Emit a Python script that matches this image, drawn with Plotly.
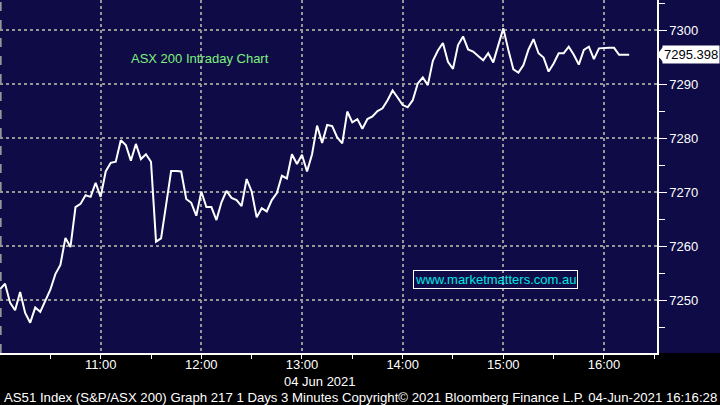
import plotly.graph_objects as go
import pandas as pd

# ---- data (3-minute bars, 04 Jun 2021, from 10:00) ----
values = [
    7252.0, 7253.0, 7249.5, 7248.1, 7251.5, 7247.6, 7245.8, 7248.6, 7247.8, 7249.7,
    7251.9, 7254.8, 7256.5, 7261.5, 7259.8, 7267.2, 7267.8, 7269.4, 7269.1, 7271.7,
    7269.1, 7273.8, 7275.4, 7275.6, 7279.6, 7278.7, 7275.8, 7278.9, 7276.1, 7277.0,
    7275.6, 7260.8, 7261.4, 7267.6, 7273.9, 7273.9, 7273.8, 7268.7, 7268.0, 7265.6,
    7270.1, 7267.2, 7267.2, 7264.8, 7268.1, 7270.2, 7268.9, 7268.5, 7267.4, 7272.4,
    7270.1, 7265.3, 7267.0, 7266.4, 7268.5, 7269.8, 7273.0, 7272.5, 7277.0, 7275.2,
    7276.9, 7273.8, 7277.0, 7282.3, 7279.1, 7282.4, 7282.2, 7280.1, 7279.0, 7284.9,
    7282.9, 7283.5, 7281.7, 7283.5, 7284.0, 7285.0, 7285.5, 7287.0, 7288.8, 7287.5,
    7286.1, 7285.7, 7287.0, 7290.1, 7291.2, 7289.8, 7294.3, 7296.2, 7297.6, 7294.1,
    7292.8, 7297.2, 7298.8, 7296.4, 7296.0, 7295.2, 7294.4, 7295.7, 7294.0, 7297.2,
    7300.3, 7296.3, 7292.7, 7292.1, 7293.5, 7296.4, 7298.3, 7295.7, 7294.9, 7292.3,
    7293.8, 7295.7, 7295.7, 7296.9, 7295.4, 7293.6, 7296.3, 7296.9, 7294.6, 7296.6,
    7296.7, 7296.7, 7296.7, 7295.398, 7295.398, 7295.398,
]
times = pd.date_range("2021-06-04 10:00", periods=len(values), freq="3min")

hour_ticks = ["2021-06-04 11:00", "2021-06-04 12:00", "2021-06-04 13:00",
              "2021-06-04 14:00", "2021-06-04 15:00", "2021-06-04 16:00"]
hour_labels = ["11:00", "12:00", "13:00", "14:00", "15:00", "16:00"]
half_ticks = ["2021-06-04 10:30", "2021-06-04 11:30", "2021-06-04 12:30",
              "2021-06-04 13:30", "2021-06-04 14:30", "2021-06-04 15:30",
              "2021-06-04 16:30"]
y_ticks = [7250, 7260, 7270, 7280, 7290, 7300]
y_labels = ["7250", "7260", "7270", "7280", "7290", "7300"]
last_value_label = "7295.398"

NAVY = "rgb(14,11,70)"
GRID = "rgb(150,150,150)"
W, H = 720, 405
PW, PH = 657, 353  # plot area in px


def px(x):
    return x / PW


def py(y):
    return (PH - y) / PH


fig = go.Figure()
fig.add_trace(go.Scatter(
    x=times, y=values, mode="lines",
    line=dict(color="white", width=2), hoverinfo="skip", showlegend=False,
))

fig.update_layout(
    width=W, height=H,
    margin=dict(l=0, r=W - PW, t=0, b=H - PH),
    paper_bgcolor="black",
    plot_bgcolor=NAVY,
    font=dict(family="Liberation Sans, Arial, sans-serif", color="white", size=13),
    showlegend=False,
    xaxis=dict(
        type="date",
        range=["2021-06-04 10:00:00", "2021-06-04 16:31:36"],
        tickmode="array", tickvals=hour_ticks, ticktext=hour_labels,
        ticks="outside", ticklen=4, tickcolor="white", tickwidth=1,
        ticklabelstandoff=-6,
        showgrid=True, gridcolor=GRID, gridwidth=2, griddash="dot",
        showline=True, linecolor="white", linewidth=2,
        zeroline=False,
        tickfont=dict(size=13, color="white"),
        minor=dict(tickmode="array", tickvals=half_ticks, ticks="outside",
                   ticklen=4, tickcolor="white", showgrid=False),
    ),
    yaxis=dict(
        side="right",
        range=[7240.185, 7305.556],
        tickmode="array", tickvals=y_ticks, ticktext=y_labels,
        ticks="outside", ticklen=8, tickcolor="white", tickwidth=1,
        showgrid=True, gridcolor=GRID, gridwidth=2, griddash="dot",
        showline=True, linecolor="white", linewidth=1.5,
        zeroline=False,
        tickfont=dict(size=13, color="white"),
        minor=dict(dtick=5, tick0=7240, ticks="outside", ticklen=6,
                   tickcolor="white", showgrid=False),
    ),
)

# navy backdrop behind right-hand axis labels
fig.add_shape(type="rect", xref="paper", yref="paper",
              x0=1.0, x1=W / PW, y0=0, y1=1,
              fillcolor=NAVY, line=dict(width=0), layer="below")
# left dashed edge line
fig.add_shape(type="line", xref="paper", yref="paper",
              x0=0.001, x1=0.001, y0=0, y1=1,
              line=dict(color=GRID, width=2, dash="dash"))

# last value marker
fig.add_shape(type="path", xref="paper", yref="paper",
              path=f"M {px(657)},{py(54.5)} L {px(663)},{py(47)} L {px(663)},{py(62)} Z",
              fillcolor="white", line=dict(width=0))

annotations = [
    dict(text="ASX 200 Intraday Chart", x=px(199.5), y=py(58),
         font=dict(size=13, color="rgb(125,240,125)")),
    dict(text="www.marketmatters.com.au", x=px(495.5), y=py(279.5),
         font=dict(size=13, color="rgb(0,230,230)"),
         bordercolor="white", borderwidth=1, borderpad=1),
    dict(text=last_value_label, x=px(690.5), y=py(54.5),
         font=dict(size=13, color="black"), bgcolor="white", borderpad=1),
    dict(text="04 Jun 2021", x=px(320), y=py(381),
         font=dict(size=13, color="white")),
    dict(text="AS51 Index (S&P/ASX 200) Graph 217 1 Days 3 Minutes Copyright\u00a9 2021 "
              "Bloomberg Finance L.P. 04-Jun-2021 16:16:28",
         x=px(360), y=py(397),
         font=dict(size=13.2, color="white")),
]
for a in annotations:
    fig.add_annotation(xref="paper", yref="paper", showarrow=False,
                       xanchor="center", yanchor="middle", **a)

fig.write_html("out.html", config={"displayModeBar": False},
               post_script="document.body.style.margin='0';")
